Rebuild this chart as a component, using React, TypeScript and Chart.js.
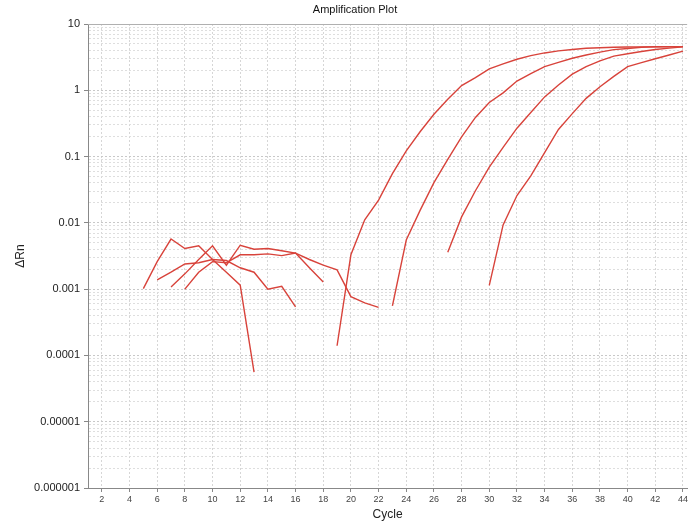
import React, { useEffect, useRef } from "react";
import { Chart, registerables } from "chart.js";

Chart.register(...registerables);

const chartTitle = "Amplification Plot";
const xTitle = "Cycle";
const yTitle = "ΔRn";

const cycles = [
  1, 2, 3, 4, 5, 6, 7, 8, 9, 10, 11, 12, 13, 14, 15, 16, 17, 18, 19, 20, 21, 22,
  23, 24, 25, 26, 27, 28, 29, 30, 31, 32, 33, 34, 35, 36, 37, 38, 39, 40, 41, 42, 43, 44,
];

const xTickValues = [2, 4, 6, 8, 10, 12, 14, 16, 18, 20, 22, 24, 26, 28, 30, 32, 34, 36, 38, 40, 42, 44];

const yMajorValues = [0.000001, 0.00001, 0.0001, 0.001, 0.01, 0.1, 1, 10];
const yTickLabels = ["0.000001", "0.00001", "0.0001", "0.001", "0.01", "0.1", "1", "10"];
const yMinorMantissas = [2, 3, 4, 5, 6, 7, 8, 9];

const N = null;

// sample 1: baseline c5-c13, amplification c19-c44
const sample1 = [
  N, N, N, N, 0.00102, 0.0026, 0.0057, 0.0041, 0.0045, 0.0028, 0.0018, 0.00115, 0.000056,
  N, N, N, N, N,
  0.00014, 0.0033, 0.0111, 0.0221, 0.0552, 0.122, 0.237, 0.435, 0.731, 1.18, 1.55, 2.1, 2.5,
  2.94, 3.34, 3.66, 3.93, 4.12, 4.31, 4.39, 4.45, 4.5, 4.52, 4.54, 4.55, 4.55,
];

// sample 2: baseline c6-c16, amplification c23-c44
const sample2 = [
  N, N, N, N, N, 0.00138, 0.0018, 0.0024, 0.0025, 0.0028, 0.0027, 0.0021, 0.0018, 0.001, 0.0011, 0.00054,
  N, N, N, N, N, N,
  0.00056, 0.0055, 0.0154, 0.0404, 0.0904, 0.198, 0.389, 0.655, 0.914, 1.38, 1.79, 2.27, 2.63,
  3.04, 3.41, 3.76, 4.1, 4.27, 4.45, 4.52, 4.54, 4.55,
];

// sample 3: baseline c8-c18, amplification c27-c44
const sample3 = [
  N, N, N, N, N, N, N, 0.001, 0.0018, 0.0026, 0.0025, 0.0033, 0.0033, 0.0034, 0.0032, 0.0035, 0.0021, 0.00128,
  N, N, N, N, N, N, N, N,
  0.0036, 0.0123, 0.0305, 0.0692, 0.138, 0.268, 0.462, 0.795, 1.2, 1.75, 2.28, 2.77, 3.27, 3.55,
  3.85, 4.12, 4.33, 4.52,
];

// sample 4: baseline c7-c22, amplification c30-c44
const sample4 = [
  N, N, N, N, N, N, 0.00108, 0.0017, 0.0028, 0.0045, 0.0023, 0.0046, 0.004, 0.0041, 0.0038, 0.0035,
  0.0028, 0.0023, 0.00195, 0.00077, 0.00062, 0.00053,
  N, N, N, N, N, N, N,
  0.00114, 0.0093, 0.0258, 0.051, 0.115, 0.256, 0.445, 0.755, 1.13, 1.62, 2.28, 2.61, 2.99, 3.41, 3.9,
];

const samples = [sample1, sample2, sample3, sample4];

const FONT = "'Liberation Sans', Arial, sans-serif";
const LINE_COLOR = "#d8433b";

function isMajor(v: number) {
  return yMajorValues.some((m) => Math.abs(v / m - 1) < 1e-6);
}

const frameAndTitle = {
  id: "frameAndTitle",
  afterDraw(chart: any) {
    const { ctx, chartArea } = chart;
    ctx.save();
    ctx.strokeStyle = "#b0b0b0";
    ctx.lineWidth = 1;
    ctx.beginPath();
    ctx.moveTo(chartArea.left, Math.round(chartArea.top) + 0.5);
    ctx.lineTo(chartArea.right, Math.round(chartArea.top) + 0.5);
    ctx.stroke();
    ctx.fillStyle = "#111";
    ctx.font = `11px ${FONT}`;
    ctx.textAlign = "center";
    ctx.textBaseline = "middle";
    ctx.fillText(chartTitle, 355, 10);
    ctx.restore();
  },
};

export default function App() {
  const ref = useRef<HTMLCanvasElement | null>(null);

  useEffect(() => {
    document.body.style.margin = "0";
    const canvas = ref.current;
    if (!canvas) return;

    const yGridValues: number[] = [];
    yMajorValues.forEach((m, i) => {
      yGridValues.push(m);
      if (i < yMajorValues.length - 1) {
        yMinorMantissas.forEach((k) => yGridValues.push(parseFloat((k * m).toPrecision(6))));
      }
    });

    const chart = new Chart(canvas, {
      type: "line",
      data: {
        datasets: samples.map((s, i) => ({
          label: `Sample ${i + 1}`,
          data: cycles.map((c, j) => ({ x: c, y: s[j] })),
          borderColor: LINE_COLOR,
          backgroundColor: LINE_COLOR,
          borderWidth: 1.4,
          pointRadius: 0,
          tension: 0,
          spanGaps: false,
          fill: false,
        })),
      },
      options: {
        animation: false,
        responsive: false,
        devicePixelRatio: 1,
        layout: { padding: { left: 0, right: 0, top: 24, bottom: 0 } },
        plugins: {
          legend: { display: false },
          tooltip: { enabled: false },
          title: { display: false },
        },
        scales: {
          x: {
            type: "linear",
            min: 1,
            max: 44.3,
            afterBuildTicks: (scale: any) => {
              scale.ticks = xTickValues.map((v) => ({ value: v }));
            },
            afterFit: (scale: any) => {
              scale.height = 36;
            },
            ticks: {
              autoSkip: false,
              maxRotation: 0,
              padding: 2,
              color: "#444",
              font: { family: FONT, size: 9 },
              callback: (v: any) => String(v),
            },
            grid: {
              color: "#d6d6d6",
              tickLength: 4,
              tickColor: "#888",
              tickBorderDash: [],
            } as any,
            border: { display: true, color: "#888", width: 1, dash: [2, 2] },
            title: {
              display: true,
              text: xTitle,
              color: "#222",
              font: { family: FONT, size: 12 },
              padding: { top: 0, bottom: 2 },
            },
          },
          y: {
            type: "logarithmic",
            min: 0.000001,
            max: 10,
            afterBuildTicks: (scale: any) => {
              scale.ticks = yGridValues.map((v) => ({ value: v, major: isMajor(v) }));
            },
            afterFit: (scale: any) => {
              scale.width = 88;
            },
            ticks: {
              autoSkip: false,
              padding: 4,
              color: "#222",
              font: { family: FONT, size: 11 },
              callback: (v: any) => {
                const idx = yMajorValues.findIndex((m) => Math.abs(v / m - 1) < 1e-6);
                return idx >= 0 ? yTickLabels[idx] : "";
              },
            },
            grid: {
              color: (ctx: any) => (ctx.tick && isMajor(ctx.tick.value) ? "#c8c8c8" : "#dedede"),
              tickLength: 4,
              tickColor: (ctx: any) => (ctx.tick && isMajor(ctx.tick.value) ? "#888" : "rgba(0,0,0,0)"),
              tickBorderDash: [],
            } as any,
            border: { display: true, color: "#888", width: 1, dash: [2, 2] },
            title: {
              display: true,
              text: yTitle,
              color: "#222",
              font: { family: FONT, size: 12 },
              padding: { top: 13, bottom: 0 },
            },
          },
        },
      },
      plugins: [frameAndTitle],
    } as any);

    return () => chart.destroy();
  }, []);

  return (
    <div style={{ position: "fixed", left: 0, top: 0, width: 690, height: 524, background: "#fff" }}>
      <canvas ref={ref} width={690} height={524} style={{ display: "block" }} />
    </div>
  );
}
